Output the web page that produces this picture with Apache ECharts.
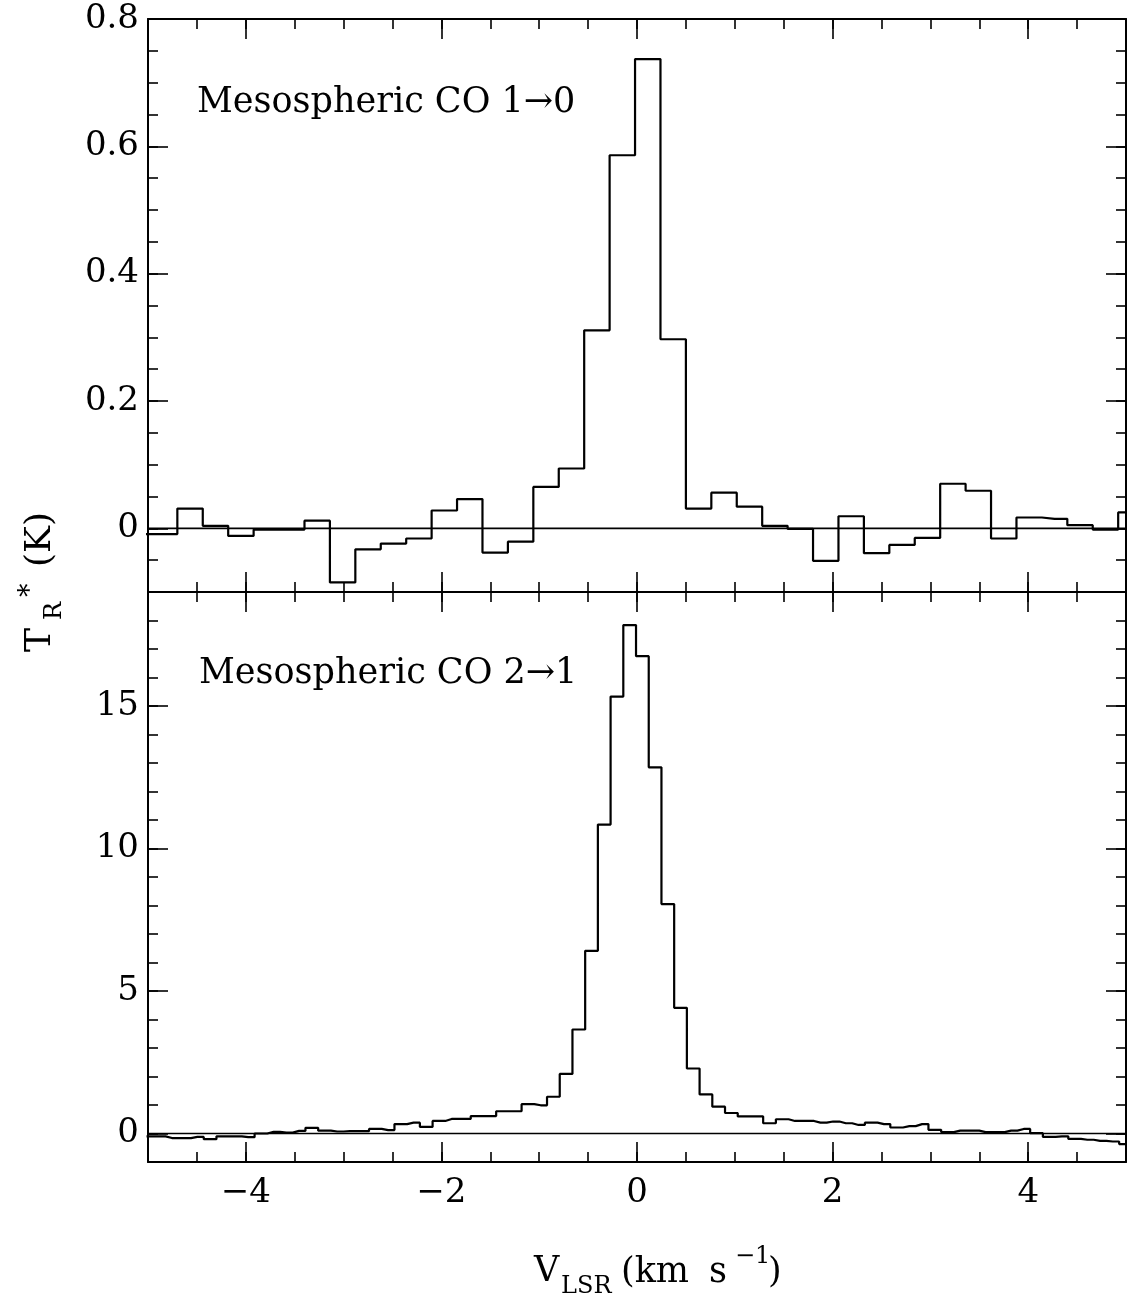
<!DOCTYPE html>
<html>
<head>
<meta charset="utf-8">
<script src="https://cdn.jsdelivr.net/npm/echarts@6/dist/echarts.min.js"></script>
<style>
html,body{margin:0;padding:0;background:#ffffff;}
#chart{width:1127px;height:1303px;}
</style>
</head>
<body>
<div id="chart"></div>
<script>
// ---------------- DATA ----------------
// Top panel: CO 1->0, channel centres (km/s) and T_R* (K)
const coOneZeroVelocity = [-5.09,-4.83,-4.57,-4.31,-4.05,-3.79,-3.53,-3.27,-3.01,-2.75,-2.49,-2.23,-1.97,-1.71,-1.45,-1.19,-0.93,-0.67,-0.41,-0.15,0.11,0.37,0.63,0.89,1.15,1.41,1.67,1.93,2.19,2.45,2.71,2.97,3.23,3.49,3.75,4.01,4.27,4.53,4.79,5.05];
const coOneZeroTemp = [-0.009,-0.009,0.031,0.004,-0.012,-0.002,-0.002,0.012,-0.085,-0.033,-0.024,-0.016,0.028,0.046,-0.038,-0.021,0.065,0.094,0.311,0.586,0.737,0.297,0.031,0.056,0.034,0.004,-0.001,-0.051,0.019,-0.039,-0.026,-0.015,0.070,0.059,-0.016,0.017,0.015,0.005,-0.002,0.025];

// Bottom panel: CO 2->1, channel centres (km/s) and T_R* (K)
const coTwoOneVelocity = [-5.015,-4.885,-4.755,-4.625,-4.495,-4.365,-4.235,-4.105,-3.975,-3.845,-3.715,-3.585,-3.455,-3.325,-3.195,-3.065,-2.935,-2.805,-2.675,-2.545,-2.415,-2.285,-2.155,-2.025,-1.895,-1.765,-1.635,-1.505,-1.375,-1.245,-1.115,-0.985,-0.855,-0.725,-0.595,-0.465,-0.335,-0.205,-0.075,0.055,0.185,0.315,0.445,0.575,0.705,0.835,0.965,1.095,1.225,1.355,1.485,1.615,1.745,1.875,2.005,2.135,2.265,2.395,2.525,2.655,2.785,2.915,3.045,3.175,3.305,3.435,3.565,3.695,3.825,3.955,4.085,4.215,4.345,4.475,4.605,4.735,4.865,4.995,5.125];
const coTwoOneTemp = [-0.10,-0.10,-0.16,-0.16,-0.12,-0.20,-0.10,-0.10,-0.13,0.00,0.06,0.03,0.09,0.20,0.10,0.07,0.08,0.08,0.16,0.12,0.33,0.38,0.23,0.44,0.51,0.51,0.61,0.61,0.78,0.78,1.03,0.99,1.29,2.09,3.65,6.41,10.84,15.33,17.84,16.75,12.85,8.05,4.41,2.28,1.37,0.94,0.72,0.60,0.60,0.36,0.50,0.44,0.44,0.38,0.42,0.36,0.30,0.38,0.33,0.21,0.26,0.33,0.13,0.05,0.10,0.10,0.05,0.05,0.10,0.16,0.01,-0.12,-0.10,-0.19,-0.22,-0.26,-0.28,-0.37,-0.40];

// Axis ranges and tick values
const velocityRange = [-5, 5];
const velocityMajorTicks = [-4, -2, 0, 2, 4];
const topTempRange = [-0.1, 0.8];
const topTempMajorTicks = [0, 0.2, 0.4, 0.6, 0.8];
const bottomTempRange = [-1, 19];
const bottomTempMajorTicks = [0, 5, 10, 15];
const baselineLevel = [0];

const panelLabels = ['Mesospheric CO 1\u21920', 'Mesospheric CO 2\u21921'];

// ---------------- STYLE / LAYOUT ----------------
const FONT = 'DejaVu Serif';
const BLACK = '#000000';
const GL = 148, GR = 1;
const GW = 1127 - GL - GR;
const grids = [
  {left: GL, top: 19, width: GW, height: 573},
  {left: GL, top: 592, width: GW, height: 570}
];

function fmt(v) {
  const s = String(Math.round(v * 1000) / 1000);
  return s.replace('-', '\u2212');
}

function makeAxis(gridIndex, position, range, majorValues, minorInterval, showLabels, major) {
  const ax = {
    type: 'value',
    gridIndex: gridIndex,
    position: position,
    min: range[0],
    max: range[1],
    interval: minorInterval,
    splitLine: {show: false},
    axisLine: {show: major, onZero: false, lineStyle: {color: BLACK, width: 2}},
    axisTick: {show: true, inside: true, length: major ? 20 : 10, lineStyle: {color: BLACK, width: 1.6}},
    axisLabel: {show: false},
    z: major ? 5 : 4
  };
  if (major) {
    ax.axisTick.customValues = majorValues;
    if (showLabels) {
      ax.axisLabel = {
        show: true,
        customValues: majorValues,
        formatter: fmt,
        color: BLACK,
        fontFamily: FONT,
        fontSize: 34,
        margin: position === 'left' ? 9 : 14
      };
    }
  }
  return ax;
}

const xAxes = [];
const yAxes = [];
// grid 0 (top)
xAxes.push(makeAxis(0, 'bottom', velocityRange, velocityMajorTicks, 0.5, false, true));   // 0
xAxes.push(makeAxis(0, 'bottom', velocityRange, velocityMajorTicks, 0.5, false, false));  // 1
xAxes.push(makeAxis(0, 'top', velocityRange, velocityMajorTicks, 0.5, false, true));      // 2
xAxes.push(makeAxis(0, 'top', velocityRange, velocityMajorTicks, 0.5, false, false));     // 3
yAxes.push(makeAxis(0, 'left', topTempRange, topTempMajorTicks, 0.05, true, true));       // 0
yAxes.push(makeAxis(0, 'left', topTempRange, topTempMajorTicks, 0.05, false, false));     // 1
yAxes.push(makeAxis(0, 'right', topTempRange, topTempMajorTicks, 0.05, false, true));     // 2
yAxes.push(makeAxis(0, 'right', topTempRange, topTempMajorTicks, 0.05, false, false));    // 3
// grid 1 (bottom)
xAxes.push(makeAxis(1, 'bottom', velocityRange, velocityMajorTicks, 0.5, true, true));    // 4
xAxes.push(makeAxis(1, 'bottom', velocityRange, velocityMajorTicks, 0.5, false, false));  // 5
xAxes.push(makeAxis(1, 'top', velocityRange, velocityMajorTicks, 0.5, false, true));      // 6
xAxes.push(makeAxis(1, 'top', velocityRange, velocityMajorTicks, 0.5, false, false));     // 7
yAxes.push(makeAxis(1, 'left', bottomTempRange, bottomTempMajorTicks, 1, true, true));    // 4
yAxes.push(makeAxis(1, 'left', bottomTempRange, bottomTempMajorTicks, 1, false, false));  // 5
yAxes.push(makeAxis(1, 'right', bottomTempRange, bottomTempMajorTicks, 1, false, true));  // 6
yAxes.push(makeAxis(1, 'right', bottomTempRange, bottomTempMajorTicks, 1, false, false)); // 7

function pairs(xs, ys) { return xs.map((x, i) => [x, ys[i]]); }

const series = [
  {
    type: 'line', xAxisIndex: 0, yAxisIndex: 0,
    data: [[velocityRange[0], baselineLevel[0]], [velocityRange[1], baselineLevel[0]]],
    symbol: 'none', lineStyle: {color: BLACK, width: 1.6}, silent: true
  },
  {
    type: 'line', xAxisIndex: 0, yAxisIndex: 0,
    data: pairs(coOneZeroVelocity, coOneZeroTemp),
    step: 'middle', symbol: 'none', lineStyle: {color: BLACK, width: 2.2}
  },
  {
    type: 'line', xAxisIndex: 4, yAxisIndex: 4,
    data: [[velocityRange[0], baselineLevel[0]], [velocityRange[1], baselineLevel[0]]],
    symbol: 'none', lineStyle: {color: BLACK, width: 1.6}, silent: true
  },
  {
    type: 'line', xAxisIndex: 4, yAxisIndex: 4,
    data: pairs(coTwoOneVelocity, coTwoOneTemp),
    step: 'middle', symbol: 'none', lineStyle: {color: BLACK, width: 2.2}
  }
];

function txt(x, y, s, size, extra) {
  return Object.assign({
    type: 'text', x: x, y: y,
    style: {text: s, fill: BLACK, font: size + 'px "' + FONT + '"', align: 'left', verticalAlign: 'middle'}
  }, extra || {});
}
const ROT = Math.PI / 2;

const graphic = [
  txt(197, 103, panelLabels[0], 35),
  txt(199, 674, panelLabels[1], 35),
  // x-axis title: V_LSR (km s^-1)
  txt(534, 1272, 'V', 35),
  txt(561, 1287, 'LSR', 24),
  txt(621, 1273, '(km', 35),
  txt(709, 1273, 's', 35),
  txt(735, 1257, '\u22121', 24),
  txt(768, 1273, ')', 35),
  // y-axis title: T_R^* (K), rotated
  txt(41, 652, 'T', 36, {rotation: ROT}),
  txt(55, 620, 'R', 24, {rotation: ROT}),
  txt(31, 597, '*', 27, {rotation: ROT}),
  txt(41, 567, '(K)', 36, {rotation: ROT})
];

const chart = echarts.init(document.getElementById('chart'), null, {renderer: 'canvas'});
chart.setOption({
  backgroundColor: '#ffffff',
  animation: false,
  grid: grids,
  xAxis: xAxes,
  yAxis: yAxes,
  series: series,
  graphic: graphic
});
</script>
</body>
</html>
